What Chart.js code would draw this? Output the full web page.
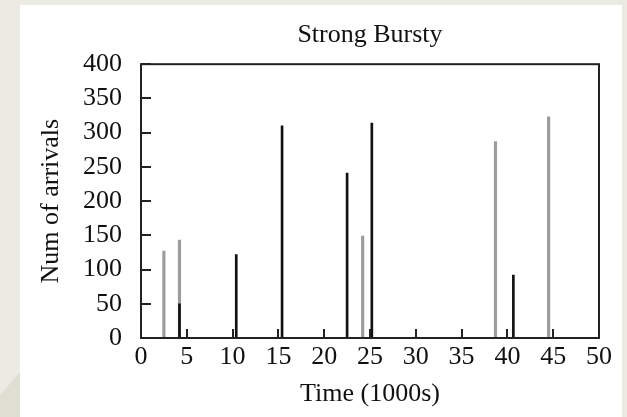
<!DOCTYPE html>
<html>
<head>
<meta charset="utf-8">
<script src="https://cdn.jsdelivr.net/npm/chart.js@4.4.1/dist/chart.umd.min.js"></script>
<style>
  html, body { margin: 0; padding: 0; }
  body { width: 627px; height: 417px; overflow: hidden; position: relative; background: #ebeae3; }
  #curl { position: absolute; left: 0; top: 0; width: 627px; height: 417px; background: #dfded3;
          clip-path: polygon(0 395px, 20px 372px, 20px 417px, 0 417px); }
  #panel { position: absolute; left: 20px; top: 5px; width: 602px; height: 412px; background: #fff; }
  #burstChart { position: absolute; left: 0; top: 0; }
</style>
</head>
<body>
<div id="curl"></div>
<div id="panel"></div>
<canvas id="burstChart" width="740" height="417"></canvas>
<script>
// spikes; time in 1000s, value = arrivals
const blackTimes = [4.2, 10.4, 15.4, 22.5, 25.2, 40.65];
const blackCounts = [50, 122, 310, 241, 314, 92];
const grayTimes = [2.5, 4.2, 24.2, 38.7, 44.5];
const grayCounts = [127, 143, 149, 287, 323];

const xTickValues = [0, 5, 10, 15, 20, 25, 30, 35, 40, 45, 50];
const yTickValues = [0, 50, 100, 150, 200, 250, 300, 350, 400];

const ink = '#111';
const serif = 'Liberation Serif, Times New Roman, serif';

// gnuplot style box with tick marks pointing inwards
const frame = {
  id: 'frame',
  afterDatasetsDraw(chart) {
    const a = chart.chartArea;
    const ctx = chart.ctx;
    const xs = chart.scales.x, ys = chart.scales.y;
    ctx.save();
    ctx.strokeStyle = '#222';
    ctx.lineWidth = 2;
    ctx.beginPath();
    xTickValues.forEach(v => {
      const px = Math.round(xs.getPixelForValue(v));
      ctx.moveTo(px, a.bottom);
      ctx.lineTo(px, a.bottom - 9);
    });
    yTickValues.forEach(v => {
      const py = Math.round(ys.getPixelForValue(v));
      ctx.moveTo(a.left, py);
      ctx.lineTo(a.left + 10, py);
    });
    ctx.stroke();
    ctx.strokeRect(a.left, a.top, a.right - a.left, a.bottom - a.top);
    ctx.restore();
  }
};

new Chart(document.getElementById('burstChart'), {
  type: 'bar',
  data: {
    datasets: [
      {
        label: 'burst',
        data: blackTimes.map((t, i) => ({ x: t, y: blackCounts[i] })),
        backgroundColor: ink,
        barThickness: 2,
        order: 0
      },
      {
        label: 'background',
        data: grayTimes.map((t, i) => ({ x: t, y: grayCounts[i] })),
        backgroundColor: '#9c9c9c',
        barThickness: 2.5,
        order: 1
      }
    ]
  },
  options: {
    responsive: false,
    animation: false,
    devicePixelRatio: 1,
    grouped: false,
    layout: { padding: { left: 0, right: 0, top: 0, bottom: 7 } },
    plugins: {
      legend: { display: false },
      tooltip: { enabled: false },
      title: {
        display: true,
        text: 'Strong Bursty',
        color: ink,
        font: { family: serif, size: 26, weight: 'normal' },
        padding: { top: 20, bottom: 13 }
      }
    },
    scales: {
      x: {
        type: 'linear',
        offset: false,
        min: 0,
        max: 50,
        afterBuildTicks: s => { s.ticks = xTickValues.map(v => ({ value: v })); },
        afterFit: s => { s.height = 72; },
        border: { display: false },
        grid: { display: false, drawTicks: false, offset: false },
        ticks: { color: ink, padding: 4, maxRotation: 0, font: { family: serif, size: 26 } },
        title: { display: true, text: 'Time (1000s)', color: ink, padding: 0, font: { family: serif, size: 26 } }
      },
      y: {
        min: 0,
        max: 400,
        afterBuildTicks: s => { s.ticks = yTickValues.map(v => ({ value: v })); },
        afterFit: s => { s.width = 141; },
        border: { display: false },
        grid: { display: false, drawTicks: false },
        ticks: { color: ink, padding: 19, font: { family: serif, size: 26 } },
        title: { display: true, text: 'Num of arrivals', color: ink, padding: { top: 36, bottom: 0 }, font: { family: serif, size: 26 } }
      },
      // empty right side so the title centres over the plot box
      yRight: {
        position: 'right',
        min: 0,
        max: 400,
        afterFit: s => { s.width = 141; },
        border: { display: false },
        grid: { display: false, drawTicks: false },
        ticks: { display: false }
      }
    }
  },
  plugins: [frame]
});
</script>
</body>
</html>
